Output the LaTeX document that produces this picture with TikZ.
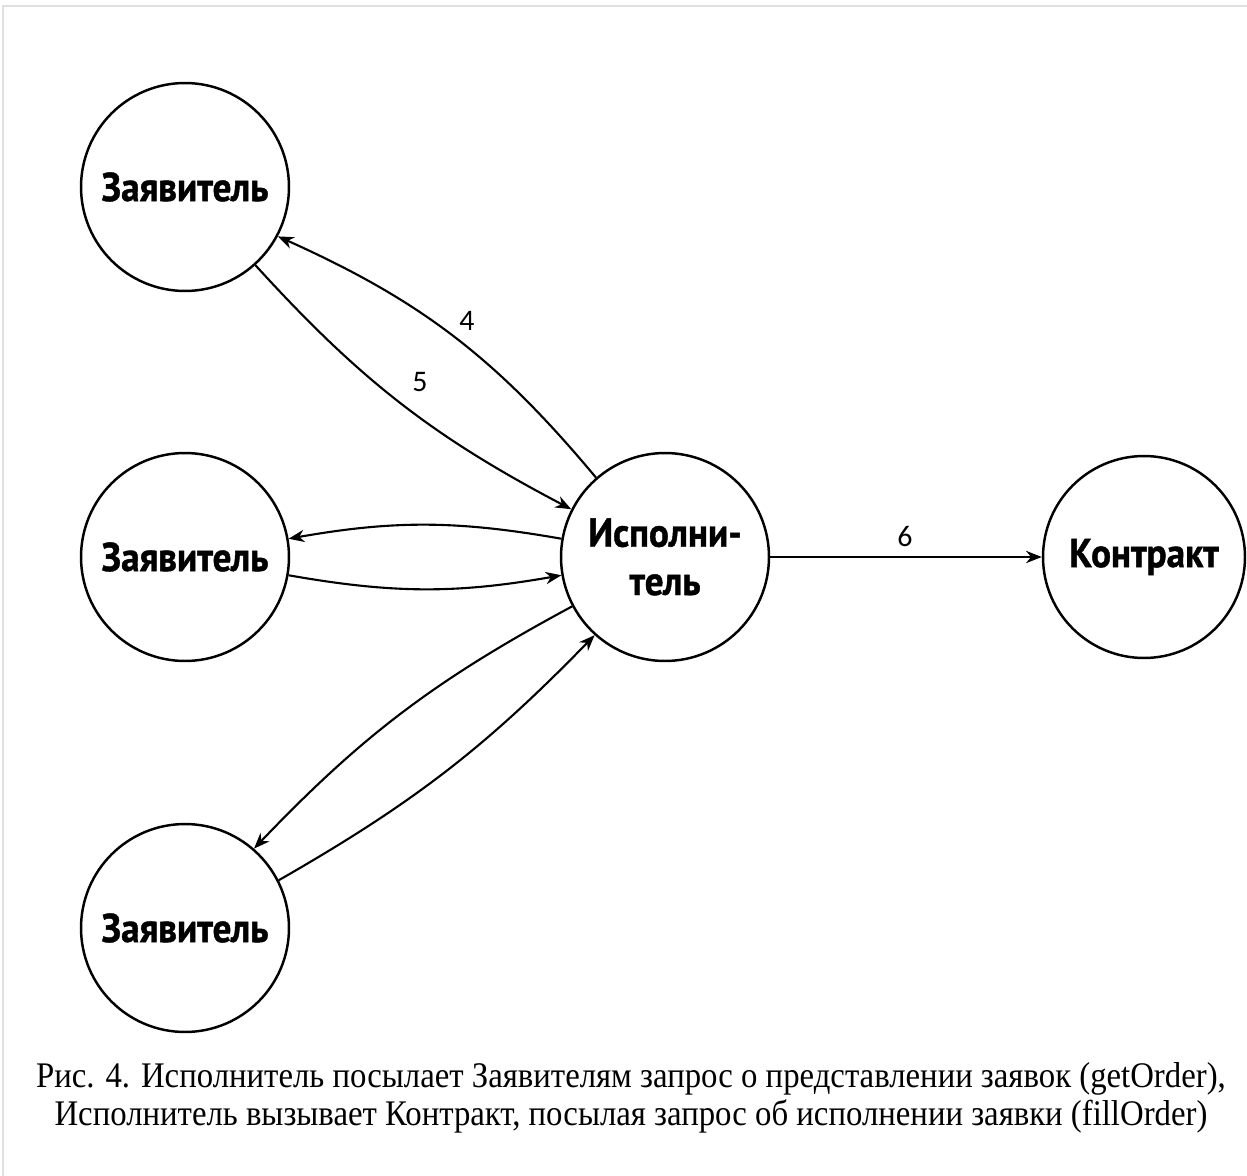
\documentclass[tikz,border=0pt]{standalone}
\usepackage{fontspec}
\usetikzlibrary{arrows.meta}
\newfontfamily\nodefont[FakeStretch=0.92,FakeBold=1]{PT Sans}
\newfontfamily\numfont{Carlito}
\newfontfamily\capfont[FakeStretch=0.91]{Liberation Serif}
\begin{document}
\begin{tikzpicture}[x=0.02cm,y=-0.02cm,
  actor/.style={circle,draw,line width=1.4pt,minimum size=4.16cm,inner sep=0pt,
    font=\nodefont\bfseries\fontsize{23}{27.5}\selectfont,align=center},
  link/.style={line width=1.2pt,-{Stealth[length=9pt,width=7pt]}},
  lbl/.style={font=\numfont\fontsize{17}{20}\selectfont}]
\useasboundingbox (0,0) rectangle (1247,1176);
\draw[black!12,line width=0.6pt] (3,1176) -- (3,6) -- (1247,6);

\node[actor] (z1) at (185,187) {Заявитель};
\node[actor] (z2) at (185,557) {Заявитель};
\node[actor] (z3) at (185,928) {Заявитель};
\node[actor] (isp) at (665,557) {Исполни-\\тель};
\node[actor,minimum size=4.04cm] (kon) at (1144,557) {Контракт};

\draw[link] (isp.131) to[bend right=13] (z1.-28);
\draw[link] (z1.-48) to[bend right=10] (isp.153);
\draw[link] (isp.170) to[bend right=10] (z2.10);
\draw[link] (z2.-10) to[bend right=10] (isp.190);
\draw[link] (isp.208) to[bend right=9] (z3.49);
\draw[link] (z3.27) to[bend right=8] (isp.228);
\draw[link] (isp.east) -- (kon.west);

\node[lbl] (n4) at (467,321) {4};
\node[lbl] (n5) at (420,382) {5};
\node[lbl] (n6) at (905,537) {6};

\node[font=\capfont\fontsize{20.5}{21.5}\selectfont,align=center] (cap) at (631,1098)
  {Рис. 4. Исполнитель посылает Заявителям запрос о представлении заявок (getOrder),\\
   Исполнитель вызывает Контракт, посылая запрос об исполнении заявки (fillOrder)};
\end{tikzpicture}
\end{document}
